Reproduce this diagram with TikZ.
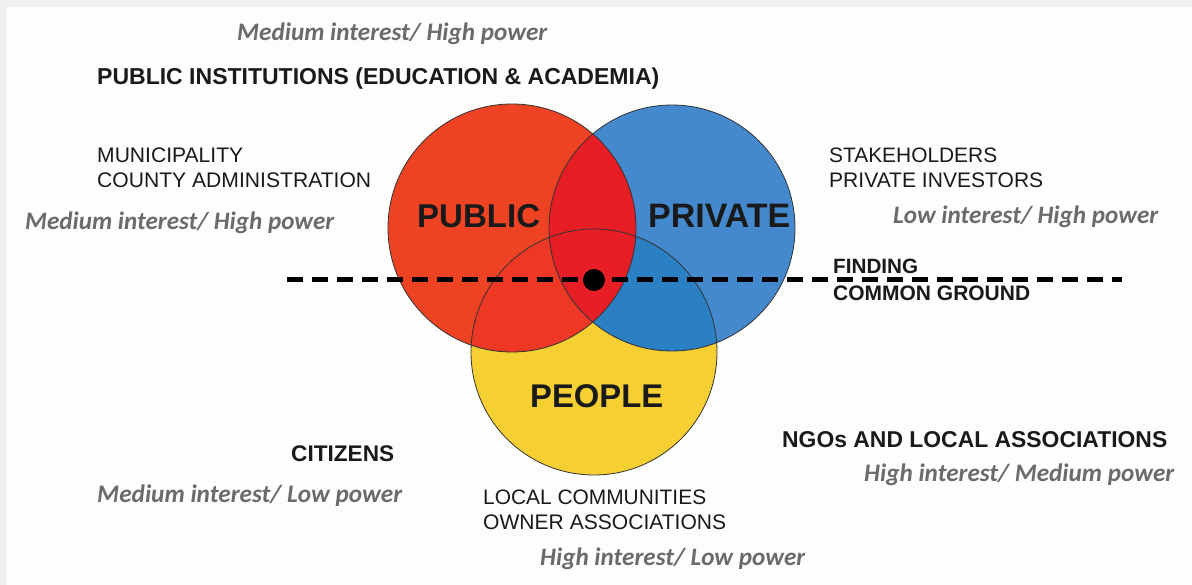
\documentclass[tikz,border=0pt]{standalone}
\usepackage{fontspec}
\setmainfont{Liberation Sans}
\newfontfamily\itfont{Carlito}
\usepackage{graphicx}
\definecolor{framegrey}{HTML}{EFEFF1}
\definecolor{paper}{HTML}{FDFDFB}
\definecolor{pubred}{HTML}{EE4322}
\definecolor{privblue}{HTML}{4489CE}
\definecolor{peopyel}{HTML}{F6CF32}
\definecolor{rbred}{HTML}{E81E27}
\definecolor{ryred}{HTML}{EC3824}
\definecolor{byblue}{HTML}{2A80C2}
\definecolor{txt}{HTML}{1A1A1A}
\definecolor{itgrey}{HTML}{6B6B6B}
\newcommand{\fitw}[2]{\resizebox{#1}{!}{#2}}
\begin{document}
\begin{tikzpicture}[x=1pt,y=-1pt,
  lbl/.style={inner sep=0pt, text=txt, anchor=base west},
  ital/.style={inner sep=0pt, text=itgrey, anchor=base west, font=\itfont\bfseries\itshape},
  ring/.style={draw=black!80, line width=0.8pt},
  ground/.style={line width=5pt, dash pattern=on 16pt off 9pt}]
\useasboundingbox (0,0) rectangle (1192,585);
\fill[framegrey] (0,0) rectangle (1192,585);
\fill[paper] (7,7) rectangle (1192,585);
\coordinate (cR) at (512,228);
\coordinate (cB) at (672,228);
\coordinate (cY) at (594,352);
% base fills
\fill[peopyel] (cY) circle (123pt);
\fill[privblue] (cB) circle (123pt);
\fill[pubred] (cR) circle (124pt);
% overlaps
\begin{scope}\clip (cR) circle (124pt); \fill[ryred] (cY) circle (123pt);\end{scope}
\begin{scope}\clip (cB) circle (123pt); \fill[byblue] (cY) circle (123pt);\end{scope}
\begin{scope}\clip (cR) circle (124pt); \fill[rbred] (cB) circle (123pt);\end{scope}
% outlines
\draw[ring] (cY) circle (123pt);
\draw[ring] (cB) circle (123pt);
\draw[ring] (cR) circle (124pt);
% common ground line and dot
\coordinate (gL) at (287,280);
\coordinate (gR) at (1122,280);
\draw[ground] (gL) -- (gR);
\fill[black] (594,280) circle (11pt);
% labels
\node[ital] (t1) at (237,41) {\fitw{310pt}{Medium interest/ High power}};
\node[lbl] (pi) at (97,85) {\fitw{562pt}{\bfseries PUBLIC INSTITUTIONS (EDUCATION \& ACADEMIA)}};
\node[lbl] (mun) at (97,163) {\fitw{146pt}{MUNICIPALITY}};
\node[lbl] (cty) at (97,188) {\fitw{274pt}{COUNTY ADMINISTRATION}};
\node[ital] (t2) at (25,230) {\fitw{309pt}{Medium interest/ High power}};
\node[lbl] (pub) at (417,228) {\fitw{123pt}{\bfseries PUBLIC}};
\node[lbl] (priv) at (648,228) {\fitw{142pt}{\bfseries PRIVATE}};
\node[lbl] (stk) at (829,163) {\fitw{168pt}{STAKEHOLDERS}};
\node[lbl] (inv) at (829,188) {\fitw{214pt}{PRIVATE INVESTORS}};
\node[ital] (t3) at (893,224) {\fitw{265pt}{Low interest/ High power}};
\node[lbl] (fnd) at (833,274) {\fitw{85pt}{\bfseries FINDING}};
\node[lbl] (cmg) at (833,301) {\fitw{197pt}{\bfseries COMMON GROUND}};
\node[lbl] (ppl) at (530,408) {\fitw{133pt}{\bfseries PEOPLE}};
\node[lbl] (cit) at (291,461) {\fitw{103pt}{\bfseries CITIZENS}};
\node[ital] (t4) at (97,502) {\fitw{305pt}{Medium interest/ Low power}};
\node[lbl] (loc) at (483,504) {\fitw{223pt}{LOCAL COMMUNITIES}};
\node[lbl] (own) at (483,529) {\fitw{243pt}{OWNER ASSOCIATIONS}};
\node[ital] (t5) at (540,565) {\fitw{265pt}{High interest/ Low power}};
\node[lbl] (ngo) at (782,447) {\fitw{385pt}{\bfseries NGOs AND LOCAL ASSOCIATIONS}};
\node[ital] (t6) at (864,481) {\fitw{310pt}{High interest/ Medium power}};
\end{tikzpicture}
\end{document}
